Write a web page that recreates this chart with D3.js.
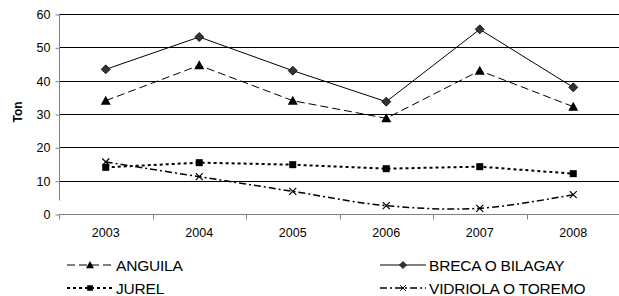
<!DOCTYPE html>
<html lang="en">
  <head>
    <meta charset="UTF-8" />
    <title>Ton</title>
    <style>
      body { margin: 0; background: #fff; }
      svg { display: block; font-family: "Liberation Sans", Arial, sans-serif; }
    </style>
  </head>
  <body>
    <svg id="svg" width="619" height="296"></svg>

    <script src="https://cdn.jsdelivr.net/npm/d3@7"></script>
    <script>
      const WIDTH = 619;
      const HEIGHT = 296;

      const YEARS = ["2003", "2004", "2005", "2006", "2007", "2008"];
      const Y_TICKS = [0, 10, 20, 30, 40, 50, 60];

      const ANGUILA = [34.0, 44.6, 34.0, 28.7, 43.0, 32.2];
      const BRECA = [43.4, 53.1, 43.0, 33.7, 55.4, 38.0];
      const JUREL = [14.0, 15.4, 14.8, 13.6, 14.2, 12.1];
      const VIDRIOLA = [15.6, 11.2, 6.8, 2.5, 1.7, 5.8];

      const series = [
        { name: "ANGUILA", values: ANGUILA, dash: "8,4", width: 1, marker: "triangle", curve: d3.curveLinear },
        { name: "BRECA O BILAGAY", values: BRECA, dash: null, width: 1, marker: "diamond", curve: d3.curveLinear },
        { name: "JUREL", values: JUREL, dash: "3,3", width: 2, marker: "square", curve: d3.curveLinear },
        { name: "VIDRIOLA O TOREMO", values: VIDRIOLA, dash: "7,3,2,3", width: 1.5, marker: "cross", curve: d3.curveCatmullRom.alpha(0.5) },
      ];

      const svg = d3.select("#svg");

      const x = d3.scaleBand().domain(YEARS).range([59, 620]).padding(0);
      const y = d3.scaleLinear().domain([0, 60]).range([214, 14]);
      const cx = (i) => x(YEARS[i]) + x.bandwidth() / 2;

      // grid lines
      svg
        .append("g")
        .selectAll("line")
        .data(Y_TICKS.filter((d) => d > 0))
        .join("line")
        .attr("x1", 59)
        .attr("x2", 619)
        .attr("y1", (d) => Math.round(y(d)) + 0.5)
        .attr("y2", (d) => Math.round(y(d)) + 0.5)
        .attr("stroke", "#000")
        .attr("stroke-width", 1);

      // left axis
      const leftAxis = d3.axisLeft(y).tickValues(Y_TICKS).tickSize(4).tickPadding(5);
      const gl = svg.append("g").attr("transform", "translate(59.5,0.5)").call(leftAxis);
      gl.select(".domain").attr("stroke", "#808080").attr("d", "M0,14V200");
      gl.selectAll(".tick line").attr("stroke", "#808080");
      gl.selectAll(".tick text")
        .attr("font-size", 12.5)
        .attr("font-family", "Liberation Sans, Arial, sans-serif")
        .attr("fill", "#000");

      // bottom axis: ticks at category boundaries
      const gb = svg.append("g").attr("transform", "translate(0,214.5)");
      gb.append("line").attr("x1", 59).attr("x2", 619).attr("stroke", "#808080");
      gb.selectAll(".bt")
        .data(YEARS)
        .join("line")
        .attr("class", "bt")
        .attr("x1", (d) => Math.round(x(d)) + 0.5)
        .attr("x2", (d) => Math.round(x(d)) + 0.5)
        .attr("y1", 0)
        .attr("y2", 5)
        .attr("stroke", "#808080");
      gb.selectAll("text")
        .data(YEARS)
        .join("text")
        .attr("x", (d) => x(d) + x.bandwidth() / 2)
        .attr("y", 22)
        .attr("text-anchor", "middle")
        .attr("font-size", 12.5)
        .text((d) => d);

      // y title
      svg
        .append("text")
        .attr("transform", "translate(22,112) rotate(-90)")
        .attr("text-anchor", "middle")
        .attr("font-size", 12)
        .attr("font-weight", "bold")
        .text("Ton");

      function drawMarker(g, type, px, py) {
        if (type === "triangle") {
          g.append("path")
            .attr("d", `M${px},${py - 5}L${px + 5},${py + 4}L${px - 5},${py + 4}Z`)
            .attr("fill", "#000");
        } else if (type === "diamond") {
          g.append("path")
            .attr("d", `M${px},${py - 4.5}L${px + 4.5},${py}L${px},${py + 4.5}L${px - 4.5},${py}Z`)
            .attr("fill", "#333")
            .attr("stroke", "#000")
            .attr("stroke-width", 0.8);
        } else if (type === "square") {
          g.append("rect")
            .attr("x", px - 3.5)
            .attr("y", py - 3.5)
            .attr("width", 7)
            .attr("height", 7)
            .attr("fill", "#000");
        } else if (type === "cross") {
          g.append("path")
            .attr("d", `M${px - 3.5},${py - 3.5}L${px + 3.5},${py + 3.5}M${px + 3.5},${py - 3.5}L${px - 3.5},${py + 3.5}`)
            .attr("stroke", "#000")
            .attr("stroke-width", 1.2);
        }
      }

      // series
      series.forEach((s) => {
        const g = svg.append("g");
        const line = d3
          .line()
          .x((d, i) => cx(i))
          .y((d) => y(d))
          .curve(s.curve);
        g.append("path")
          .attr("d", line(s.values))
          .attr("fill", "none")
          .attr("stroke", "#000")
          .attr("stroke-width", s.width)
          .attr("stroke-dasharray", s.dash);
        s.values.forEach((v, i) => drawMarker(g, s.marker, cx(i), y(v)));
      });

      // legend
      const legendPos = [
        [67, 265],
        [380, 265],
        [67, 288],
        [380, 288],
      ];
      series.forEach((s, i) => {
        const [lx, ly] = legendPos[i];
        const g = svg.append("g");
        g.append("line")
          .attr("x1", lx)
          .attr("x2", lx + 46)
          .attr("y1", ly)
          .attr("y2", ly)
          .attr("stroke", "#000")
          .attr("stroke-width", s.width)
          .attr("stroke-dasharray", s.dash);
        const mg = g.append("g").attr("transform", `translate(${lx + 23},${ly}) scale(0.8)`);
        drawMarker(mg, s.marker, 0, 0);
        g.append("text")
          .attr("x", lx + 49)
          .attr("y", ly + 5.5)
          .attr("font-size", 15.5)
          .attr("letter-spacing", -0.2)
          .text(s.name);
      });
    </script>
  </body>
</html>
